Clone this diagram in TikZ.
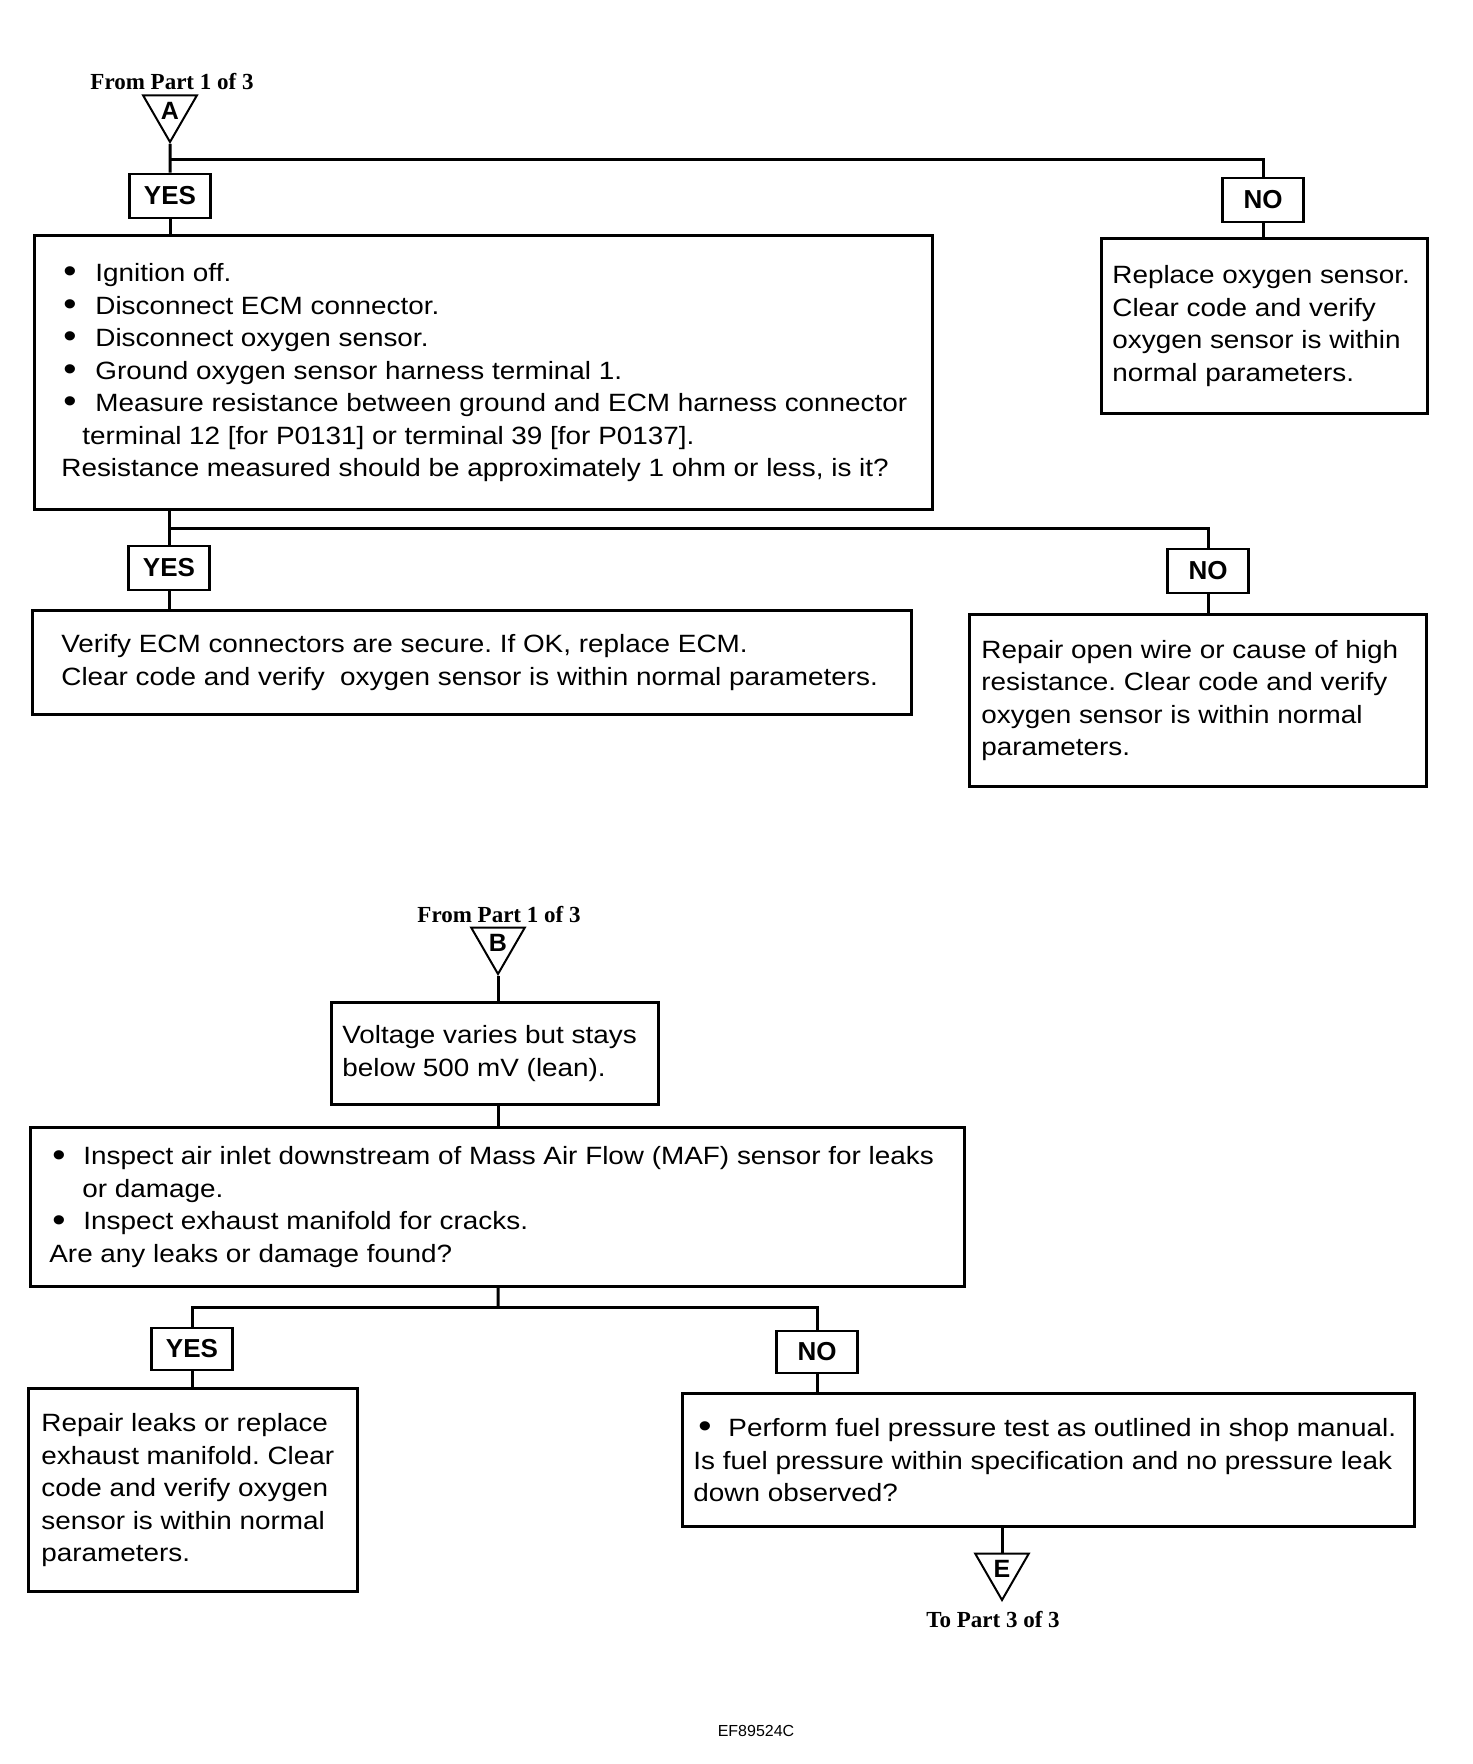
\documentclass[tikz,border=0pt]{standalone}
\usepackage{fontspec}
\setmainfont[FakeStretch=1.115]{Liberation Sans}
\newfontfamily\plainsans{Liberation Sans}
\newfontfamily\serifb{Liberation Serif}
\usetikzlibrary{shapes.geometric}
\newcommand\bulx[2]{\makebox[#2][l]{\hspace{#1}\raisebox{-0.6pt}{\scalebox{1.35}{•}}}}
\frenchspacing
\begin{document}
\begin{tikzpicture}[x=0.5pt,y=-0.5pt,
 box/.style={draw, line width=1.6pt, rectangle, inner sep=0pt, anchor=north west},
 ans/.style={draw, line width=1.3pt, rectangle, inner sep=0pt, minimum width=40.5pt, minimum height=22pt, font=\plainsans\fontsize{13}{15}\selectfont\bfseries},
 txt/.style={anchor=west, align=left, inner sep=0pt, font=\fontsize{12.5}{16.25}\selectfont},
 conn/.style={line width=1.5pt},
 tri/.style={draw, line width=1pt, regular polygon, regular polygon sides=3, shape border rotate=180, minimum size=31pt, inner sep=0pt, font=\plainsans\fontsize{12.5}{14}\selectfont\bfseries},
 refl/.style={font=\fontsize{11.5}{13}\selectfont\serifb\bfseries, inner sep=0pt, anchor=base},
]
\fill[white] (0,0) rectangle (1472,1764);
\useasboundingbox (0,0) rectangle (1472,1764);

% ---------- Part A ----------
\node[refl] (fromA) at (172,90) {From Part 1 of 3};
\node[tri] (triA) at (170,111) {A};
\node[ans] (yes1) at (170,196) {YES};
\node[ans] (no1) at (1263,200) {NO};
\node[box, minimum width=449pt, minimum height=137pt] (b1) at (33,234) {};
\node[txt] (t1) at ([xshift=14pt]b1.west) {%
\bulx{1pt}{17pt}Ignition off.\\
\bulx{1pt}{17pt}Disconnect ECM connector.\\
\bulx{1pt}{17pt}Disconnect oxygen sensor.\\
\bulx{1pt}{17pt}Ground oxygen sensor harness terminal 1.\\
\bulx{1pt}{17pt}Measure resistance between ground and ECM harness connector\\
\hspace*{10.5pt}terminal 12 [for P0131] or terminal 39 [for P0137].\\
Resistance measured should be approximately 1 ohm or less, is it?};
\node[box, minimum width=163pt, minimum height=87.5pt] (b2) at (1100,237) {};
\node[txt] (t2) at ([xshift=6pt]b2.west) {Replace oxygen sensor.\\Clear code and verify\\oxygen sensor is within\\normal parameters.};

\coordinate (jA) at (170,160);
\draw[conn] (triA.south) -- (yes1.north);
\draw[conn] (jA) -| (no1.north);
\draw[conn] (yes1.south) -- (yes1.south |- b1.north);
\draw[conn] (no1.south) -- (no1.south |- b2.north);

\node[ans] (yes2) at (169,568) {YES};
\node[ans] (no2) at (1208,571) {NO};
\node[box, minimum width=439.5pt, minimum height=52pt] (b3) at (31,609) {};
\node[txt] (t3) at ([xshift=15pt]b3.west) {Verify ECM connectors are secure. If OK, replace ECM.\\Clear code and verify~ oxygen sensor is within normal parameters.};
\node[box, minimum width=228.5pt, minimum height=86pt] (b4) at (968,613) {};
\node[txt] (t4) at ([xshift=6.5pt]b4.west) {Repair open wire or cause of high\\resistance. Clear code and verify\\oxygen sensor is within normal\\parameters.};

\coordinate (j1) at (169,529);
\draw[conn] (yes2.north |- b1.south) -- (yes2.north);
\draw[conn] (j1) -| (no2.north);
\draw[conn] (yes2.south) -- (yes2.south |- b3.north);
\draw[conn] (no2.south) -- (no2.south |- b4.north);

% ---------- Part B ----------
\node[refl] (fromB) at (499,922) {From Part 1 of 3};
\node[tri] (triB) at (498,943) {B};
\node[box, minimum width=163.5pt, minimum height=51pt] (b5) at (330,1001) {};
\node[txt] (t5) at ([xshift=6pt]b5.west) {Voltage varies but stays\\below 500 mV (lean).};
\node[box, minimum width=467pt, minimum height=79.5pt] (b6) at (29,1126) {};
\node[txt] (t6) at ([xshift=10pt]b6.west) {%
\bulx{1.5pt}{17pt}Inspect air inlet downstream of Mass Air Flow (MAF) sensor for leaks\\
\hspace*{16.5pt}or damage.\\
\bulx{1.5pt}{17pt}Inspect exhaust manifold for cracks.\\
Are any leaks or damage found?};

\draw[conn] (triB.south) -- (triB.south |- b5.north);
\draw[conn] (triB.south |- b5.south) -- (triB.south |- b6.north);

\node[ans, minimum height=21pt] (yes3) at (192,1349) {YES};
\node[ans, minimum height=21pt] (no3) at (817,1352) {NO};
\node[box, minimum width=164.5pt, minimum height=101.5pt] (b7) at (27,1387) {};
\node[txt] (t7) at ([xshift=7pt]b7.west) {Repair leaks or replace\\exhaust manifold. Clear\\code and verify oxygen\\sensor is within normal\\parameters.};
\node[box, minimum width=366pt, minimum height=66.5pt] (b8) at (681,1392) {};
\node[txt] (t8) at ([xshift=6pt]b8.west) {%
\bulx{2.5pt}{17.5pt}Perform fuel pressure test as outlined in shop manual.\\
Is fuel pressure within specification and no pressure leak\\
down observed?};

\coordinate (jB) at (498,1307);
\draw[conn] (triB.south |- b6.south) -- (jB);
\draw[conn] (yes3.north) |- (jB) -| (no3.north);
\draw[conn] (yes3.south) -- (yes3.south |- b7.north);
\draw[conn] (no3.south) -- (no3.south |- b8.north);

\node[tri] (triE) at (1002,1569) {E};
\draw[conn] (triE.north |- b8.south) -- (triE.north);
\node[refl] (toE) at (993,1627) {To Part 3 of 3};

\node[font=\plainsans\fontsize{8}{9}\selectfont, inner sep=0pt] (code) at (756,1731) {EF89524C};
\end{tikzpicture}
\end{document}
